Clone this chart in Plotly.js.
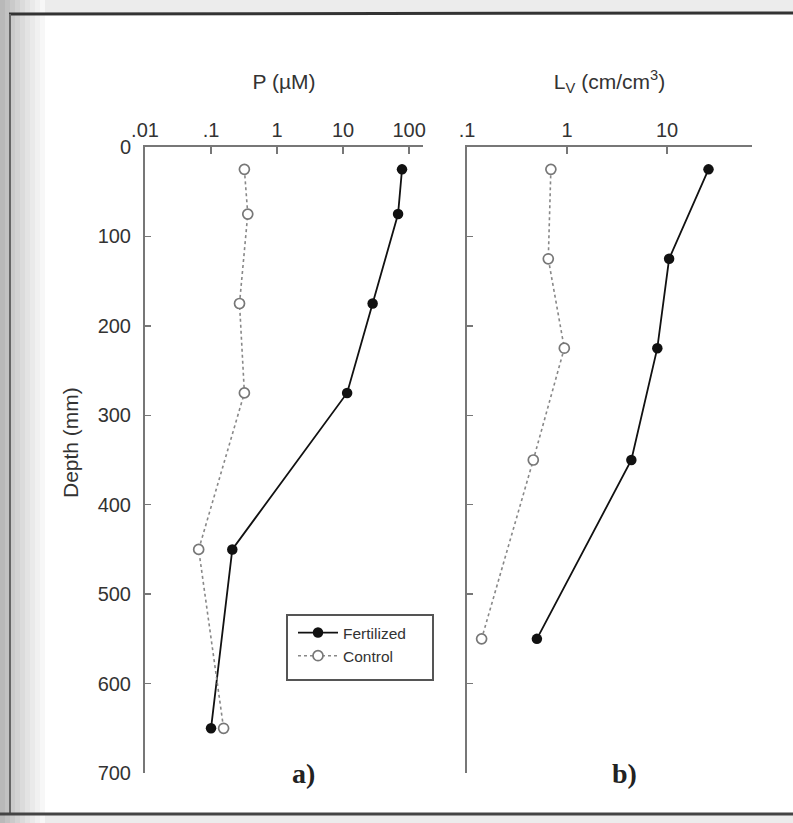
<!DOCTYPE html>
<html>
<head>
<meta charset="utf-8">
<script src="https://cdn.plot.ly/plotly-3.0.1.min.js"></script>
<style>html,body{margin:0;padding:0;background:#fff;}#chart{width:793px;height:823px;}</style>
</head>
<body>
<div id="chart"></div>
<script>
// ---- data ----
const depthP = [25, 75, 175, 275, 450, 650];
const pFertilized = [78, 68, 28, 11.5, 0.21, 0.10];
const pControl = [0.32, 0.36, 0.27, 0.32, 0.065, 0.155];

const depthL = [25, 125, 225, 350, 550];
const lvFertilized = [26, 10.5, 8.0, 4.4, 0.50];
const lvControl = [0.69, 0.65, 0.94, 0.46, 0.14];

const tickValsP = [0.01, 0.1, 1, 10, 100];
const tickTextP = ['.01', '.1', '1', '10', '100'];
const tickValsL = [0.1, 1, 10];
const tickTextL = ['.1', '1', '10'];
const depthTicks = [0, 100, 200, 300, 400, 500, 600, 700];

const W = 793, H = 823;
const px = v => v / W;
const py = v => (H - v) / H;

const fertLine = {color: '#111', width: 1.8};
const fertMarker = {symbol: 'circle', size: 10.5, color: '#111'};
const ctrlLine = {color: '#888', width: 1.6, dash: 'dot'};
const ctrlMarker = {symbol: 'circle', size: 10, color: '#ffffff', line: {width: 1.7, color: '#777'}};

const traces = [
  {x: pFertilized, y: depthP, xaxis: 'x', yaxis: 'y', mode: 'lines+markers', name: 'Fertilized',
   line: fertLine, marker: fertMarker},
  {x: pControl, y: depthP, xaxis: 'x', yaxis: 'y', mode: 'lines+markers', name: 'Control',
   line: ctrlLine, marker: ctrlMarker},
  {x: lvFertilized, y: depthL, xaxis: 'x2', yaxis: 'y2', mode: 'lines+markers', name: 'Fertilized',
   line: fertLine, marker: fertMarker, showlegend: false},
  {x: lvControl, y: depthL, xaxis: 'x2', yaxis: 'y2', mode: 'lines+markers', name: 'Control',
   line: ctrlLine, marker: ctrlMarker, showlegend: false}
];

const tickFont = {family: 'Liberation Sans, Arial, sans-serif', size: 20, color: '#333'};
const titleFont = {family: 'Liberation Sans, Arial, sans-serif', size: 21, color: '#333'};

const commonX = {
  type: 'log', side: 'top', showgrid: false, zeroline: false,
  showline: true, linecolor: '#777', linewidth: 2,
  ticks: 'inside', ticklen: 7, tickwidth: 1.5, tickcolor: '#777',
  tickmode: 'array', tickfont: tickFont, automargin: false, fixedrange: true
};
const commonY = {
  range: [700, 0], showgrid: false, zeroline: false,
  showline: true, linecolor: '#777', linewidth: 2,
  ticks: 'inside', ticklen: 6, tickwidth: 1.5, tickcolor: '#777',
  tickmode: 'array', tickvals: depthTicks, tickfont: tickFont, automargin: false, fixedrange: true
};

// background (scanned page edges)
const shapes = [];
const grays = ['#b9b9b9', '#c2c2c2', '#cacaca', '#d3d3d3', '#dbdbdb', '#e3e3e3', '#eaeaea', '#f1f1f1', '#f7f7f7'];
grays.forEach((g, i) => {
  shapes.push({type: 'rect', xref: 'paper', yref: 'paper', layer: 'below',
    x0: px(i * 5), x1: px(i * 5 + 5), y0: py(823), y1: py(0), fillcolor: g, line: {width: 0}});
});
shapes.push({type: 'rect', xref: 'paper', yref: 'paper', layer: 'below',
  x0: px(45), x1: px(793), y0: py(13), y1: py(0), fillcolor: '#ececec', line: {width: 0}});
shapes.push({type: 'rect', xref: 'paper', yref: 'paper', layer: 'below',
  x0: px(45), x1: px(793), y0: py(823), y1: py(815), fillcolor: '#ececec', line: {width: 0}});
shapes.push({type: 'line', xref: 'paper', yref: 'paper', layer: 'below',
  x0: px(9), x1: px(793), y0: py(14), y1: py(13), line: {color: '#333', width: 3}});
shapes.push({type: 'line', xref: 'paper', yref: 'paper', layer: 'below',
  x0: px(10), x1: px(10), y0: py(14), y1: py(814), line: {color: '#666', width: 2}});
shapes.push({type: 'line', xref: 'paper', yref: 'paper', layer: 'below',
  x0: px(0), x1: px(793), y0: py(814), y1: py(814), line: {color: '#444', width: 3}});
// legend frame
shapes.push({type: 'rect', xref: 'paper', yref: 'paper', layer: 'above',
  x0: px(287), x1: px(433), y0: py(680), y1: py(615), fillcolor: '#ffffff',
  line: {color: '#555', width: 2}});

const layout = {
  width: W, height: H,
  margin: {l: 0, r: 0, t: 0, b: 0},
  paper_bgcolor: '#ffffff', plot_bgcolor: 'rgba(0,0,0,0)',
  showlegend: true,
  xaxis: Object.assign({}, commonX, {
    domain: [px(145), px(423)], range: [-2, 2.21], anchor: 'y',
    tickvals: tickValsP, ticktext: tickTextP,
    title: {text: 'P (\u00B5M)', font: titleFont, standoff: 24}
  }),
  xaxis2: Object.assign({}, commonX, {
    domain: [px(467), px(752)], range: [-1, 1.85], anchor: 'y2',
    tickvals: tickValsL, ticktext: tickTextL,
    title: {text: 'L<sub>V</sub> (cm/cm<sup>3</sup>)', font: titleFont, standoff: 24}
  }),
  yaxis: Object.assign({}, commonY, {
    domain: [py(773), py(147)], anchor: 'x', ticklabelstandoff: 8
  }),
  yaxis2: Object.assign({}, commonY, {
    domain: [py(773), py(147)], anchor: 'x2', showticklabels: false
  }),
  legend: {
    x: px(293), y: py(616), xanchor: 'left', yanchor: 'top',
    bgcolor: 'rgba(0,0,0,0)', borderwidth: 0,
    font: {family: 'Liberation Sans, Arial, sans-serif', size: 15.5, color: '#333'},
    tracegroupgap: 0, itemwidth: 40
  },
  annotations: [
    {text: 'Depth (mm)', xref: 'paper', yref: 'paper', x: px(70), y: py(443), showarrow: false,
     textangle: -90, xanchor: 'center', yanchor: 'middle', font: titleFont},
    {text: '<b>a)</b>', xref: 'paper', yref: 'paper', x: px(303), y: py(773), showarrow: false,
     xanchor: 'center', yanchor: 'middle',
     font: {family: 'Liberation Serif, Times New Roman, serif', size: 28, color: '#222'}},
    {text: '<b>b)</b>', xref: 'paper', yref: 'paper', x: px(624), y: py(773), showarrow: false,
     xanchor: 'center', yanchor: 'middle',
     font: {family: 'Liberation Serif, Times New Roman, serif', size: 28, color: '#222'}}
  ],
  shapes: shapes
};

Plotly.newPlot('chart', traces, layout, {staticPlot: true, displayModeBar: false});
</script>
</body>
</html>
